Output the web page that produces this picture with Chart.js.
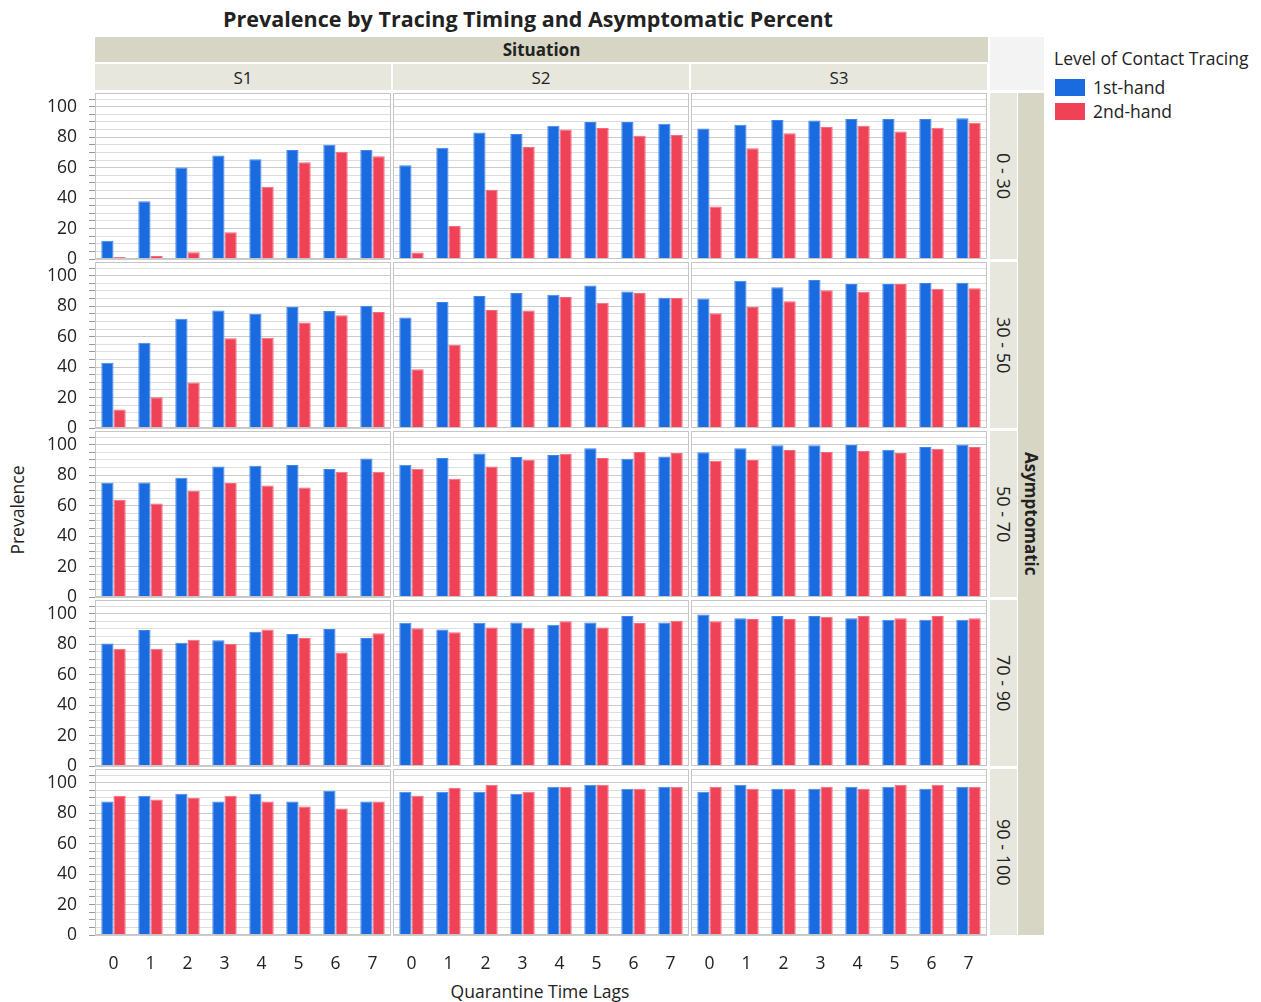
<!DOCTYPE html>
<html>
<head>
<meta charset="utf-8">
<script src="https://cdn.jsdelivr.net/npm/chart.js@4.4.1/dist/chart.umd.min.js"></script>
<style>
  body { margin: 0; background: #fff; font-family: "Open Sans", sans-serif; color: #222; }
  #wrap { position: relative; width: 1261px; height: 1002px; overflow: hidden; }
  #wrap div { position: absolute; box-sizing: border-box; }
  #wrap canvas { position: absolute; }
  .cell { display: flex; align-items: center; justify-content: center; white-space: nowrap; }
  .vert { writing-mode: vertical-rl; }
</style>
</head>
<body>
<div id="wrap"></div>
<script>
const lags = ['0', '1', '2', '3', '4', '5', '6', '7'];
const situations = ['S1', 'S2', 'S3'];
const asymptomatic = ['0 - 30', '30 - 50', '50 - 70', '70 - 90', '90 - 100'];
const yTicks = [0, 20, 40, 60, 80, 100];
const seriesNames = ['1st-hand', '2nd-hand'];

// prevalence per asymptomatic band, one list per situation (S1, S2, S3)
const first_0_30 = [
  [12, 38, 60, 68, 65.5, 71.5, 75, 71.5],
  [61.5, 73, 83, 82, 87.5, 90, 90, 88.8],
  [85.7, 88.2, 91.2, 91, 92, 92, 91.9, 92.5]
];
const second_0_30 = [
  [1.3, 2, 4.4, 17.5, 47.5, 63.5, 70.5, 67.5],
  [4.2, 21.7, 45.4, 73.5, 85, 86, 81, 81.5],
  [34.4, 72.8, 82.5, 86.6, 87.5, 83.8, 86.2, 89.5]
];
const first_30_50 = [
  [42.8, 55.9, 71.7, 77.2, 75, 79.4, 76.8, 80.3],
  [72.6, 82.7, 86.6, 88.6, 87.5, 93.6, 89.7, 85.5],
  [85.1, 96.7, 92.5, 97.1, 94.5, 94.5, 95.2, 95.4]
];
const second_30_50 = [
  [12.1, 20.2, 29.8, 59, 59.2, 69.3, 74.1, 76.1],
  [38.6, 54.6, 77.4, 77.2, 86, 82.2, 88.6, 85.3],
  [75.4, 79.4, 83.3, 90.4, 89.5, 94.5, 91.4, 91.7]
];
const first_50_70 = [
  [75, 75.2, 78.3, 85.7, 86.2, 86.6, 84, 91],
  [86.8, 91.2, 94.3, 91.9, 93.2, 97.6, 90.8, 92.3],
  [95, 97.6, 99.6, 99.6, 99.8, 96.7, 98.5, 100]
];
const second_50_70 = [
  [63.8, 61.4, 69.7, 74.8, 73.2, 71.9, 82.2, 82.2],
  [84.2, 77.6, 85.7, 90.1, 94.1, 91.2, 95.2, 94.5],
  [89.5, 89.9, 96.5, 95.2, 95.8, 94.5, 97.4, 98.5]
];
const first_70_90 = [
  [80.5, 89.3, 80.9, 82.5, 88.2, 86.6, 89.9, 84],
  [94.1, 89.7, 94.1, 94.3, 92.8, 94.3, 98.5, 94.3],
  [99.5, 97, 98.5, 98.5, 97, 96, 96, 96]
];
const second_70_90 = [
  [77, 77, 82.9, 80.3, 89.7, 84, 74.6, 87.1],
  [90.4, 87.9, 91, 90.8, 95, 91, 93.9, 95.4],
  [95, 96.5, 96.5, 98, 98.5, 97, 98.5, 97]
];
const first_90_100 = [
  [87.6, 91.5, 92.8, 87.6, 92.8, 87.6, 94.8, 87.6],
  [94, 94, 94, 92.8, 97.4, 98.7, 96, 97.4],
  [94, 98.7, 96, 96, 97.4, 97.4, 96, 97.4]
];
const second_90_100 = [
  [91.5, 88.9, 90.2, 91.5, 87.6, 84.3, 83, 87.6],
  [91.5, 96.7, 98.7, 94, 97.4, 98.7, 96, 97.4],
  [97.4, 96, 96, 97.4, 96, 98.7, 98.7, 97.4]
];

const firstHand = [first_0_30, first_30_50, first_50_70, first_70_90, first_90_100];
const secondHand = [second_0_30, second_30_50, second_50_70, second_70_90, second_90_100];

const blue = '#1a6be0';
const red = '#f04257';

// grid geometry (px)
const plotLeft = 95, plotTop = 93;
const panelW = 296, panelH = 166, gapX = 2, gapY = 3;
const axisW = 65, axisH = 45, labelRoom = 12;

const wrap = document.getElementById('wrap');

function addDiv(css, text, cls) {
  const d = document.createElement('div');
  if (cls) d.className = cls;
  d.style.cssText = css;
  if (text !== undefined) d.textContent = text;
  wrap.appendChild(d);
  return d;
}

// thin grey frame round each panel
const panelFrame = {
  id: 'panelFrame',
  afterDraw(chart) {
    const { ctx, chartArea: a } = chart;
    ctx.save();
    ctx.strokeStyle = '#c6c6c6';
    ctx.lineWidth = 1;
    ctx.strokeRect(a.left + 0.5, a.top + 0.5, a.width - 1, a.height - 1);
    ctx.restore();
  }
};

function makePanel(r, c) {
  const isLeft = c === 0;
  const isBottom = r === asymptomatic.length - 1;
  const x0 = plotLeft + c * (panelW + gapX);
  const y0 = plotTop + r * (panelH + gapY);
  // left column keeps some room under the panel so the "0" label is not cut
  const below = isBottom ? axisH : (isLeft ? labelRoom : 0);
  const w = panelW + (isLeft ? axisW : 0);
  const h = panelH + below;

  const cv = document.createElement('canvas');
  cv.width = w;
  cv.height = h;
  cv.style.left = (x0 - (isLeft ? axisW : 0)) + 'px';
  cv.style.top = y0 + 'px';
  cv.style.width = w + 'px';
  cv.style.height = h + 'px';
  wrap.appendChild(cv);

  new Chart(cv, {
    type: 'bar',
    data: {
      labels: lags,
      datasets: [{
        label: seriesNames[0],
        data: firstHand[r][c],
        backgroundColor: blue,
        borderColor: '#3f86ec',
        borderWidth: 1
      }, {
        label: seriesNames[1],
        data: secondHand[r][c],
        backgroundColor: red,
        borderColor: '#f5697b',
        borderWidth: 1
      }]
    },
    options: {
      responsive: false,
      animation: false,
      layout: { padding: 0 },
      datasets: { bar: { categoryPercentage: 0.66, barPercentage: 1 } },
      plugins: { legend: { display: false }, tooltip: { enabled: false } },
      scales: {
        x: {
          grid: { display: false, drawTicks: false },
          border: { display: false },
          ticks: { display: isBottom, padding: 19, color: '#222', font: { family: 'Open Sans', size: 17.5 } },
          afterFit: (s) => { s.height = below; s.paddingLeft = 0; s.paddingRight = 0; }
        },
        y: {
          min: 0,
          max: 109,
          grid: {
            color: (ctx) => (ctx.tick && ctx.tick.value % 20 === 0) ? '#cbcbcb' : '#dedede',
            drawTicks: isLeft,
            tickLength: 6,
            tickColor: '#9a9a9a'
          },
          border: { display: false },
          ticks: {
            display: isLeft,
            stepSize: 5,
            autoSkip: false,
            includeBounds: false,
            padding: 12,
            color: '#222',
            font: { family: 'Open Sans', size: 17.5 },
            callback: (v) => yTicks.includes(v) ? String(v) : ''
          },
          afterFit: (s) => { s.width = isLeft ? axisW : 0; s.paddingTop = 0; s.paddingBottom = 0; }
        }
      }
    },
    plugins: [panelFrame]
  });
}

// title and facet headers
addDiv('left:0;top:3px;width:1056px;height:30px;font:bold 21.5px "Open Sans";', 'Prevalence by Tracing Timing and Asymptomatic Percent', 'cell');
addDiv('left:95px;top:37px;width:893px;height:25px;background:#d7d6c4;font:bold 17px "Open Sans";', 'Situation', 'cell');
addDiv('left:990px;top:37px;width:54px;height:53px;background:#f3f3f3;');
situations.forEach((s, c) => {
  addDiv('left:' + (plotLeft + c * (panelW + gapX)) + 'px;top:64px;width:' + panelW + 'px;height:26px;background:#e8e7de;font:17px "Open Sans";', s, 'cell');
});
asymptomatic.forEach((a, r) => {
  addDiv('left:990px;top:' + (plotTop + r * (panelH + gapY)) + 'px;width:27px;height:' + panelH + 'px;background:#e8e7de;font:18px "Open Sans";', a, 'cell vert');
});
addDiv('left:1018px;top:93px;width:26px;height:842px;background:#d7d6c4;font:bold 17px "Open Sans";', 'Asymptomatic', 'cell vert');

// axis titles
addDiv('left:-33px;top:498px;width:100px;height:24px;transform:rotate(-90deg);font:17.5px "Open Sans";', 'Prevalence', 'cell');
addDiv('left:390px;top:980px;width:300px;height:22px;font:17.5px "Open Sans";', 'Quarantine Time Lags', 'cell');

// legend
addDiv('left:1054px;top:46px;font:17.5px "Open Sans";white-space:nowrap;', 'Level of Contact Tracing');
[blue, red].forEach((col, i) => {
  addDiv('left:1055px;top:' + (79 + i * 24) + 'px;width:30px;height:17px;background:' + col + ';');
  addDiv('left:1093px;top:' + (75 + i * 24) + 'px;font:17.5px "Open Sans";white-space:nowrap;', seriesNames[i]);
});

for (let r = 0; r < asymptomatic.length; r++) {
  for (let c = 0; c < situations.length; c++) makePanel(r, c);
}
</script>
</body>
</html>
